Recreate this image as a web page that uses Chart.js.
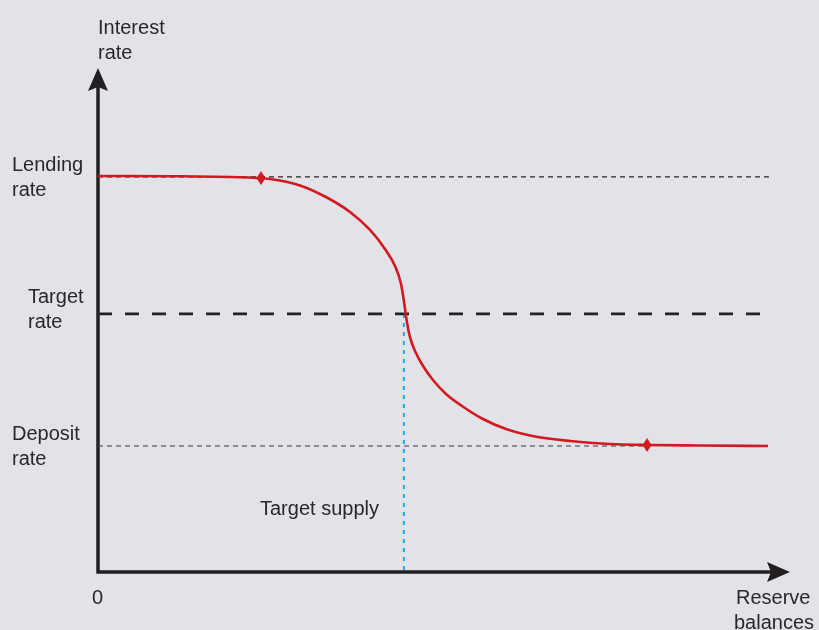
<!DOCTYPE html>
<html>
<head>
<meta charset="utf-8">
<script src="https://cdn.jsdelivr.net/npm/chart.js@4.4.1/dist/chart.umd.min.js"></script>
<style>
  html, body { margin: 0; padding: 0; background: #e2e3e8; }
  #wrap { width: 819px; height: 630px; position: relative; }
</style>
</head>
<body>
<div id="wrap"><canvas id="c" width="819" height="630"></canvas></div>
<script>
// ---- Data (abstract units: x 0..100 reserve balances, y 0..100 interest rate) ----
const curveX = [0, 10.40, 19.08, 24.85, 29.19, 32.80, 36.42, 39.31, 41.47, 42.92, 43.79, 44.29, 44.44, 44.94, 45.30, 45.81, 46.97, 48.41, 50.29, 52.60, 55.49, 58.96, 63.15, 68.21, 73.99, 79.34, 86.99, 96.82];
const curveY = [78.57, 78.53, 78.37, 77.98, 76.70, 74.50, 71.43, 67.86, 64.09, 60.71, 57.14, 52.98, 51.39, 47.42, 45.63, 43.85, 40.87, 38.10, 35.32, 32.94, 30.46, 28.37, 26.88, 25.99, 25.40, 25.20, 25.10, 25.00];
const markerX = [23.55, 79.34];
const markerY = [78.15, 25.20];
const rateNames = ["Lending rate", "Target rate", "Deposit rate"];
const rateValues = [78.4, 51.2, 25.0];
const rateLineEnd = [97.1, 97.4, 79.3];
const targetSupply = 44.2;
const axisTitles = { y: "Interest rate", x: "Reserve balances", origin: "0", supply: "Target supply" };

const curve = curveX.map((x, i) => ({ x, y: curveY[i] }));
const markers = markerX.map((x, i) => ({ x, y: markerY[i] }));

const RED = '#d2191f';
const TXT = '#2a2728';

// tall diamond marker
const diamond = document.createElement('canvas');
diamond.width = 10; diamond.height = 14;
(function () {
  const g = diamond.getContext('2d');
  g.fillStyle = RED;
  g.beginPath();
  g.moveTo(5, 0); g.lineTo(9.5, 7); g.lineTo(5, 14); g.lineTo(0.5, 7); g.closePath();
  g.fill();
})();

const datasets = [
  { data: markers, showLine: false, pointStyle: diamond, pointRadius: 5, backgroundColor: RED, borderColor: RED },
  { data: curve, borderColor: RED, borderWidth: 2.6, pointRadius: 0, cubicInterpolationMode: 'monotone', fill: false },
  { data: [{ x: 0, y: rateValues[0] }, { x: rateLineEnd[0], y: rateValues[0] }], borderColor: '#262626', borderWidth: 1.2, borderDash: [5, 4], pointRadius: 0 },
  { data: [{ x: 0, y: rateValues[1] }, { x: rateLineEnd[1], y: rateValues[1] }], borderColor: '#222', borderWidth: 2.8, borderDash: [14, 13], pointRadius: 0 },
  { data: [{ x: 0, y: rateValues[2] }, { x: rateLineEnd[2], y: rateValues[2] }], borderColor: '#3a3a3a', borderWidth: 1.2, borderDash: [5, 4], pointRadius: 0 },
  { data: [{ x: targetSupply, y: rateValues[1] }, { x: targetSupply, y: 0 }], borderColor: '#1eaae6', borderWidth: 2, borderDash: [4, 5], pointRadius: 0 }
];

const axesPlugin = {
  id: 'axesAndText',
  beforeDatasetsDraw(chart) {
    const { ctx, scales: { x, y } } = chart;
    const x0 = x.getPixelForValue(0), y0 = y.getPixelForValue(0);
    const yTop = y.getPixelForValue(100), xRight = x.getPixelForValue(100);
    ctx.save();
    ctx.strokeStyle = '#231f20'; ctx.fillStyle = '#231f20'; ctx.lineWidth = 3.5; ctx.lineCap = 'butt';
    ctx.beginPath();
    ctx.moveTo(x0, y0); ctx.lineTo(x0, yTop + 18);
    ctx.moveTo(x0 - 1.75, y0); ctx.lineTo(xRight - 18, y0);
    ctx.stroke();
    // arrow heads
    ctx.beginPath();
    ctx.moveTo(x0, yTop); ctx.lineTo(x0 + 10, yTop + 23); ctx.lineTo(x0, yTop + 19); ctx.lineTo(x0 - 10, yTop + 23); ctx.closePath();
    ctx.fill();
    ctx.beginPath();
    ctx.moveTo(xRight, y0); ctx.lineTo(xRight - 23, y0 - 10); ctx.lineTo(xRight - 19, y0); ctx.lineTo(xRight - 23, y0 + 10); ctx.closePath();
    ctx.fill();
    ctx.restore();
  },
  afterDraw(chart) {
    const { ctx, scales: { x, y } } = chart;
    ctx.save();
    ctx.fillStyle = TXT;
    ctx.font = '20px "Liberation Sans", Arial, sans-serif';
    ctx.textBaseline = 'alphabetic';
    ctx.textAlign = 'left';
    const two = (t) => { const i = t.lastIndexOf(' '); return [t.slice(0, i), t.slice(i + 1)]; };
    // y-axis title
    const yt = two(axisTitles.y);
    ctx.fillText(yt[0], 98, 34); ctx.fillText(yt[1], 98, 59);
    // rate labels (left of axis)
    const lx = [12, 28, 12];
    rateNames.forEach((n, i) => {
      const p = y.getPixelForValue(rateValues[i]);
      const [a, b] = two(n);
      const off = [-6, -11, -6][i];
      ctx.fillText(a, lx[i], p + off);
      ctx.fillText(b, lx[i], p + off + 25);
    });
    // Target supply label
    ctx.fillText(axisTitles.supply, 260, 515);
    // origin
    ctx.fillText(axisTitles.origin, 92, 604);
    // x title
    const xt = two(axisTitles.x);
    ctx.fillText(xt[0], 736, 604); ctx.fillText(xt[1], 734, 629);
    ctx.restore();
  }
};

new Chart(document.getElementById('c'), {
  type: 'line',
  data: { datasets },
  options: {
    responsive: false,
    animation: false,
    layout: { padding: { left: 98, right: 29, top: 68, bottom: 58 } },
    plugins: { legend: { display: false }, tooltip: { enabled: false } },
    scales: {
      x: { type: 'linear', min: 0, max: 100, display: false },
      y: { type: 'linear', min: 0, max: 100, display: false }
    }
  },
  plugins: [axesPlugin]
});
</script>
</body>
</html>
